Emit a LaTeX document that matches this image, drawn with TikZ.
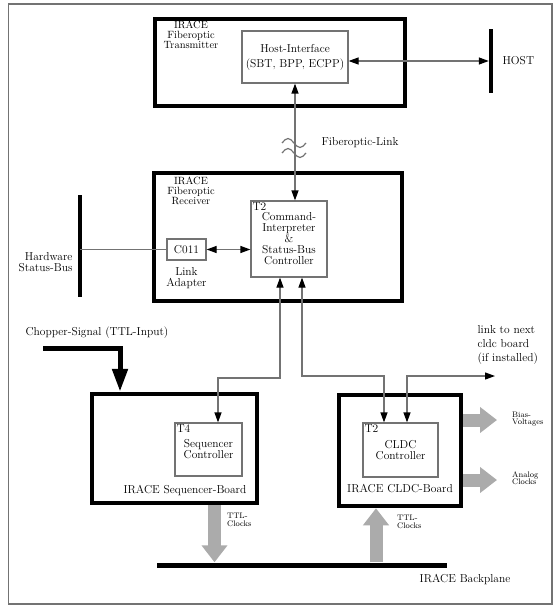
\documentclass[tikz,border=0pt]{standalone}
\usetikzlibrary{arrows.meta,positioning}
\definecolor{linegray}{rgb}{0.45,0.45,0.45}
\definecolor{fatgray}{rgb}{0.67,0.67,0.67}
\tikzset{
  board/.style={draw=black, line width=4.5pt, inner sep=0pt},
  unit/.style={draw=linegray, line width=1.2pt, inner sep=0pt, align=center},
  tag/.style={label={[anchor=north west,inner sep=2pt]north west:#1}},
  bus/.style={fill=black, inner sep=0pt},
  wire/.style={draw=linegray, line width=1.2pt},
  link/.style={wire, {Triangle[length=10pt,width=7pt,color=black]}-{Triangle[length=10pt,width=7pt,color=black]}},
  fat/.style={draw=fatgray, line width=13pt, -{Triangle[length=17pt,width=25pt]}},
  chop/.style={draw=black, line width=5pt, -{Triangle[length=23pt,width=15pt]}},
  small/.style={font=\fontsize{8}{7.5}\selectfont, align=left, anchor=west, inner sep=1pt},
  boardname/.style={align=center, font=\fontsize{10.5}{10}\selectfont, inner sep=1pt}
}
\begin{document}
\begin{tikzpicture}[x=1pt,y=-1pt,font=\fontsize{11.5}{11}\selectfont]
    \useasboundingbox (0,0) rectangle (559,615);
    \draw [linegray, line width=1.5pt] (8.5,4) rectangle (552,604);
    % fiberoptic transmitter
    \node [board, minimum width=250pt, minimum height=87pt] (tx) at (280,62.5) {};
    \node [boardname] (txname) at (191,35) {IRACE\\Fiberoptic\\Transmitter};
    \node [unit, minimum width=106pt, minimum height=52pt] (hi) at (295,57) {Host-Interface\\[4pt](SBT, BPP, ECPP)};
    \node [bus, minimum width=4pt, minimum height=64pt] (hostbus) at (491,61) {};
    \node [anchor=west] (hostname) at (499,61) {HOST};
    \draw [link] (hi.east |- hostbus) -- (hostbus.west);
    % fiberoptic receiver
    \node [board, minimum width=248pt, minimum height=128pt] (rx) at (278,237) {};
    \node [boardname] (rxname) at (191,191) {IRACE\\Fiberoptic\\Receiver};
    \node [unit, tag=T2, minimum width=76pt, minimum height=76pt] (cmd) at (289,239) {Command-\\Interpreter\\\&\\Status-Bus\\Controller};
    \node [unit, minimum width=39pt, minimum height=21pt] (c011) at (186.5,249.5) {C011};
    \node [below=3pt of c011, align=center] (adapter) {Link\\Adapter};
    \node [bus, minimum width=4pt, minimum height=102pt] (hwbus) at (80,246) {};
    \node [align=right, anchor=east] (hwname) at (76,262) {Hardware\\Status-Bus};
    \draw [wire] (hwbus |- c011) -- (c011.west);
    \draw [link] (c011.east) -- (c011 -| cmd.west);
    % fiberoptic link
    \draw [link] (hi.south) -- (hi.south |- cmd.north);
    \coordinate (wave1) at (294,143);
    \coordinate (wave2) at (294,153);
    \foreach \w in {wave1,wave2}
      \draw [wire] ([xshift=-12pt]\w) sin ++(6,-4.5) cos ++(6,4.5) sin ++(6,4.5) cos ++(6,-4.5);
    \node [anchor=west] (fibername) at (318,143) {Fiberoptic-Link};
    % sequencer board
    \node [board, minimum width=165pt, minimum height=109pt] (seq) at (174.5,448.5) {};
    \node [unit, tag=T4, minimum width=67pt, minimum height=53pt] (seqc) at (208.5,449.5) {Sequencer\\Controller};
    \node (seqname) at (185,491) {IRACE Sequencer-Board};
    \node [anchor=west] (chopname) at (22,333) {Chopper-Signal (TTL-Input)};
    \coordinate (chopin) at (43,348);
    \draw [chop] (chopin) -| ([xshift=-54.5pt]seq.north);
    % cldc board
    \node [board, minimum width=122pt, minimum height=111pt] (cldc) at (400,450.5) {};
    \node [unit, tag=T2, minimum width=75pt, minimum height=54pt] (cldcc) at (400.5,450) {CLDC\\Controller};
    \node (cldcname) at (400,489) {IRACE CLDC-Board};
    % links from the command interpreter
    \coordinate (seqbend) at (218,378);
    \coordinate (cldcbend) at (384,376);
    \coordinate (nextlink) at (495,376);
    \draw [link] ([xshift=-9pt]cmd.south) |- (seqbend) -- (seqbend |- seqc.north);
    \draw [link] ([xshift=13pt]cmd.south) |- (cldcbend) -- (cldcbend |- cldcc.north);
    \draw [link] ([xshift=6.5pt]cldcc.north) |- (nextlink);
    \node [anchor=west, align=left, font=\fontsize{11.5}{14}\selectfont] (nextname) at (474,345) {link to next\\cldc board\\(if installed)};
    % outputs
    \coordinate (biasend) at (497,420);
    \coordinate (analogend) at (497,480);
    \draw [fat] (cldc.east |- biasend) -- (biasend);
    \draw [fat] (cldc.east |- analogend) -- (analogend);
    \node [small] (biasname) at (511,419) {Bias-\\Voltages};
    \node [small] (analogname) at (511,478) {Analog\\Clocks};
    % backplane
    \node [bus, minimum width=290pt, minimum height=5pt] (backplane) at (302,565) {};
    \draw [fat] ([xshift=40pt]seq.south) -- ([xshift=40pt]seq.south |- backplane.north);
    \draw [fat] ([xshift=-24pt]cldc.south |- backplane.north) -- ([xshift=-24pt]cldc.south);
    \node [small] (ttlseq) at (226,520) {TTL-\\Clocks};
    \node [small] (ttlcldc) at (396,522) {TTL-\\Clocks};
    \node (bpname) at (465,580) {IRACE Backplane};
\end{tikzpicture}
\end{document}
